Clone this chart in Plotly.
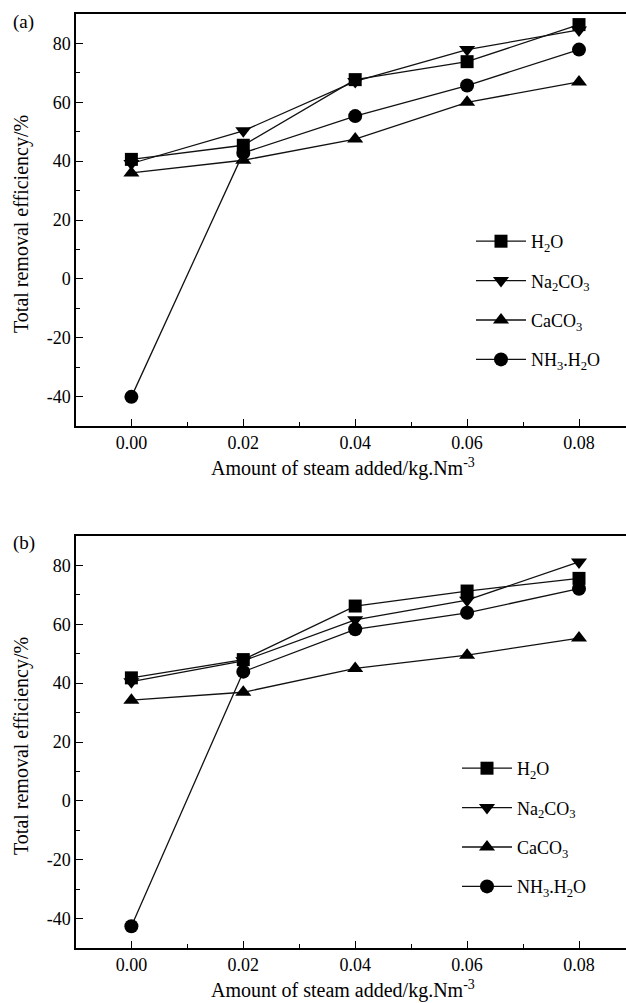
import plotly.graph_objects as go

steam = [0.00, 0.02, 0.04, 0.06, 0.08]

series_names = ["H<sub>2</sub>O", "Na<sub>2</sub>CO<sub>3</sub>", "CaCO<sub>3</sub>", "NH<sub>3</sub>.H<sub>2</sub>O"]

a_h2o = [40.6, 45.4, 67.7, 73.8, 86.4]
a_na2co3 = [39.2, 50.3, 67.1, 77.9, 84.6]
a_caco3 = [36.0, 40.3, 47.5, 60.0, 66.9]
a_nh3 = [-40.1, 42.8, 55.3, 65.7, 77.9]

b_h2o = [41.8, 48.0, 66.2, 71.3, 75.6]
b_na2co3 = [40.5, 47.6, 61.5, 68.2, 81.2]
b_caco3 = [34.2, 36.9, 45.0, 49.5, 55.3]
b_nh3 = [-42.6, 43.9, 58.3, 63.9, 72.1]

x_ticks = [0.00, 0.02, 0.04, 0.06, 0.08]
x_tick_labels = ["0.00", "0.02", "0.04", "0.06", "0.08"]
y_ticks = [-40, -20, 0, 20, 40, 60, 80]
y_tick_labels = ["-40", "-20", "0", "20", "40", "60", "80"]

symbols = ["square", "triangle-down", "triangle-up", "circle"]
sizes = [13, 14, 14, 14]

FONT = "Liberation Serif"

# pixel geometry helpers
L, R, T, B = 76, 0, 14, 55
W, H = 626, 1003
PW = W - L - R
PH = H - T - B


def px(xp):
    return (xp - L) / PW


def py(yp):
    return (H - B - yp) / PH


fig = go.Figure()

panels = [
    ("x", "y", "legend", [a_h2o, a_na2co3, a_caco3, a_nh3]),
    ("x2", "y2", "legend2", [b_h2o, b_na2co3, b_caco3, b_nh3]),
]

for xa, ya, lg, data in panels:
    for i, (name, vals) in enumerate(zip(series_names, data)):
        fig.add_trace(go.Scatter(
            x=steam, y=vals, name=name, mode="lines+markers",
            xaxis=xa, yaxis=ya, legend=lg, legendgroup=lg + str(i),
            line=dict(color="#111111", width=1.3),
            marker=dict(symbol=symbols[i], size=sizes[i], color="black"),
            cliponaxis=False,
        ))

axis_common = dict(
    showline=True, linecolor="black", linewidth=1.5,
    ticks="inside", ticklen=7, tickwidth=1.3, tickcolor="black",
    showgrid=False, zeroline=False,
    tickfont=dict(family=FONT, size=18, color="black"),
)

xcommon = dict(axis_common, range=[-0.0099, 0.0884], tickvals=x_ticks, ticktext=x_tick_labels,
               mirror=True,
               minor=dict(ticks="inside", ticklen=4, tickwidth=1.2, tickcolor="black", dtick=0.01, tick0=0))
ycommon = dict(axis_common, range=[-50, 90], tickvals=y_ticks, ticktext=y_tick_labels, mirror=False,
               minor=dict(ticks="inside", ticklen=4, tickwidth=1.2, tickcolor="black", dtick=10, tick0=0))

y1_dom = [py(426), py(14)]
y2_dom = [py(948), py(536)]

legend_common = dict(
    font=dict(family=FONT, size=18, color="black"),
    bgcolor="rgba(0,0,0,0)", borderwidth=0,
    tracegroupgap=13, itemwidth=50,
    xanchor="left", yanchor="top",
)

fig.update_layout(
    width=W, height=H,
    margin=dict(l=L, r=R, t=T, b=B),
    paper_bgcolor="white", plot_bgcolor="white",
    showlegend=True,
    xaxis=dict(xcommon, domain=[0, 1], anchor="y"),
    yaxis=dict(ycommon, domain=y1_dom, anchor="x"),
    xaxis2=dict(xcommon, domain=[0, 1], anchor="y2"),
    yaxis2=dict(ycommon, domain=y2_dom, anchor="x2"),
    legend=dict(legend_common, x=px(471), y=py(223)),
    legend2=dict(legend_common, x=px(457), y=py(750)),
)

ann_font = dict(family=FONT, size=19, color="black")
title_font = dict(family=FONT, size=20, color="black")
annotations = [
    dict(text="(a)", x=px(11), y=py(22), xanchor="left", yanchor="middle", font=ann_font),
    dict(text="(b)", x=px(11), y=py(543), xanchor="left", yanchor="middle", font=ann_font),
    dict(text="Total removal efficiency/%", x=px(21), y=py(224), textangle=-90,
         xanchor="center", yanchor="middle", font=title_font),
    dict(text="Total removal efficiency/%", x=px(21), y=py(746), textangle=-90,
         xanchor="center", yanchor="middle", font=title_font),
    dict(text="Amount of steam added/kg.Nm<sup>-3</sup>", x=px(343), y=py(467),
         xanchor="center", yanchor="middle", font=title_font),
    dict(text="Amount of steam added/kg.Nm<sup>-3</sup>", x=px(343), y=py(989),
         xanchor="center", yanchor="middle", font=title_font),
]
for a in annotations:
    fig.add_annotation(dict(a, xref="paper", yref="paper", showarrow=False))

fig.write_html(
    "out.html",
    config={"displayModeBar": False},
    post_script="document.body.style.margin='0';document.body.style.overflow='hidden';",
)
